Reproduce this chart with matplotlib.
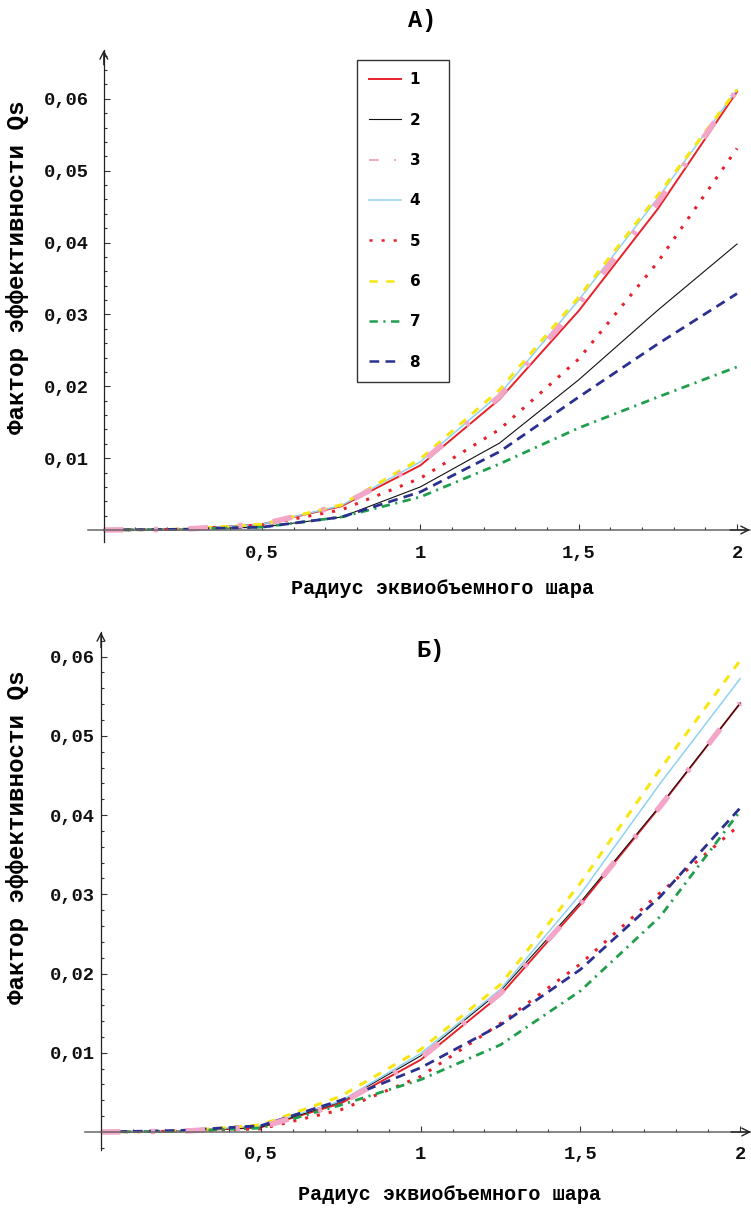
import matplotlib
matplotlib.use("Agg")
import matplotlib.pyplot as plt
from matplotlib.lines import Line2D
from matplotlib.ticker import FixedLocator, MultipleLocator

plt.rcParams['lines.scale_dashes'] = False
MONO = 'Liberation Mono'

# радиус эквиобъемного шара
radius = [0, 0.25, 0.5, 0.75, 1.0, 1.25, 1.5, 1.75, 2.0]
names = ['1', '2', '3', '4', '5', '6', '7', '8']

# панель А)
a1 = [0, 0.0001, 0.0008, 0.0033, 0.0090, 0.0182, 0.0305, 0.0447, 0.0610]
a2 = [0, 0.0001, 0.0004, 0.0018, 0.0060, 0.0121, 0.0209, 0.0306, 0.0398]
a3 = [0, 0.0001, 0.0008, 0.0034, 0.0093, 0.0186, 0.0314, 0.0456, 0.0612]
a4 = [0, 0.0001, 0.0008, 0.0034, 0.0095, 0.0189, 0.0320, 0.0462, 0.0613]
a5 = [0, 0.0001, 0.0007, 0.0028, 0.0072, 0.0140, 0.0238, 0.0373, 0.0531]
a6 = [0, 0.0001, 0.0008, 0.0035, 0.0099, 0.0195, 0.0324, 0.0466, 0.0613]
a7 = [0, 0.0001, 0.0004, 0.0018, 0.0046, 0.0092, 0.0142, 0.0185, 0.0227]
a8 = [0, 0.0001, 0.0004, 0.0018, 0.0053, 0.0109, 0.0185, 0.0259, 0.0329]

# панель Б)
b1 = [0, 0.0001, 0.0006, 0.0036, 0.0091, 0.0173, 0.0287, 0.0411, 0.0541]
b2 = [0, 0.0001, 0.0006, 0.0038, 0.0096, 0.0178, 0.0290, 0.0412, 0.0541]
b3 = [0, 0.0001, 0.0006, 0.0036, 0.0093, 0.0175, 0.0288, 0.0411, 0.0541]
b4 = [0, 0.0001, 0.0008, 0.0039, 0.0099, 0.0180, 0.0300, 0.0440, 0.0572]
b5 = [0, 0.0001, 0.0004, 0.0028, 0.0070, 0.0137, 0.0212, 0.0302, 0.0388]
b6 = [0, 0.0001, 0.0009, 0.0045, 0.0104, 0.0186, 0.0314, 0.0458, 0.0595]
b7 = [0, 0.0001, 0.0005, 0.0034, 0.0066, 0.0110, 0.0178, 0.0272, 0.0405]
b8 = [0, 0.0002, 0.0008, 0.0040, 0.0081, 0.0135, 0.0205, 0.0297, 0.0409]

x_ticks = [0.5, 1, 1.5, 2]
x_labels = ['0,5', '1', '1,5', '2']
y_ticks = [0.01, 0.02, 0.03, 0.04, 0.05, 0.06]
y_labels = ['0,01', '0,02', '0,03', '0,04', '0,05', '0,06']

styles = [
    dict(color='#e8202a', lw=1.4, ls='-'),
    dict(color='#111111', lw=0.8, ls='-'),
    dict(color='#f4a6c8', lw=4.0, dashes=(14, 22, 3, 22)),
    dict(color='#8ed2f2', lw=1.1, ls='-'),
    dict(color='#e8202a', lw=2.2, dashes=(2.2, 6.5)),
    dict(color='#f7e612', lw=2.2, dashes=(6, 6)),
    dict(color='#1f9e4b', lw=2.0, dashes=(6, 4, 1.5, 4)),
    dict(color='#2b3090', lw=2.0, dashes=(7, 4.5)),
]
draw_order = [0, 1, 3, 4, 5, 6, 7, 2]

W, H = 751, 1210
fig = plt.figure(figsize=(W / 100, H / 100), dpi=100)


def px_axes(l, t, r, b):
    return fig.add_axes([l / W, 1 - b / H, (r - l) / W, (b - t) / H])


def setup(ax, xlim, ylim, ypad, xpad):
    ax.set_xlim(*xlim)
    ax.set_ylim(*ylim)
    for s in ['top', 'right']:
        ax.spines[s].set_visible(False)
    ax.spines['left'].set_position(('data', 0))
    ax.spines['bottom'].set_position(('data', 0))
    ax.spines['left'].set_color('#222222')
    ax.spines['bottom'].set_color('#666666')
    ax.spines['left'].set_linewidth(0.9)
    ax.spines['bottom'].set_linewidth(1.1)
    ax.xaxis.set_major_locator(FixedLocator(x_ticks))
    ax.set_xticklabels(x_labels)
    ax.yaxis.set_major_locator(FixedLocator(y_ticks))
    ax.set_yticklabels(y_labels)
    ax.xaxis.set_minor_locator(MultipleLocator(0.1))
    ax.yaxis.set_minor_locator(MultipleLocator(0.002))
    ax.tick_params(which='both', direction='in', color='#333333', width=0.8)
    ax.tick_params(which='major', length=4)
    ax.tick_params(which='minor', length=2.2)
    ax.tick_params(axis='y', which='major', pad=ypad)
    ax.tick_params(axis='x', which='major', pad=xpad)
    for lab in ax.get_xticklabels() + ax.get_yticklabels():
        lab.set_fontfamily(MONO)
        lab.set_fontweight('bold')
        lab.set_fontsize(13.5)
        lab.set_color('#111111')
    arrow = dict(arrowstyle='->,head_length=0.55,head_width=0.28', lw=1.0,
                 color='#222222', shrinkA=0, shrinkB=0)
    ax.annotate('', xy=(1, 0), xycoords=('axes fraction', 'data'),
                xytext=(0.97, 0), textcoords=('axes fraction', 'data'),
                arrowprops=arrow, annotation_clip=False)
    ax.annotate('', xy=(0, 1), xycoords=('data', 'axes fraction'),
                xytext=(0, 0.97), textcoords=('data', 'axes fraction'),
                arrowprops=arrow, annotation_clip=False)


def draw(ax, series):
    for i in draw_order:
        ax.plot(radius, series[i], clip_on=False, **styles[i])


# ---- А)
ax1 = px_axes(88, 50, 750, 542)
setup(ax1, (-0.05, 2.041), (-0.00167, 0.0668), ypad=10.5, xpad=11)
draw(ax1, [a1, a2, a3, a4, a5, a6, a7, a8])

handles = []
for i, st in enumerate(styles):
    st = dict(st)
    if i == 2:
        st.update(lw=1.4, dashes=(7, 11, 1.5, 11))
    else:
        st['lw'] = min(st['lw'], 1.8)
    handles.append(Line2D([], [], **st))
leg = ax1.legend(handles, [n + '   ' for n in names],
                 loc='upper left', bbox_to_anchor=(357 / W, 1 - 60 / H),
                 bbox_transform=fig.transFigure, borderaxespad=0,
                 frameon=True, fancybox=False, framealpha=1,
                 edgecolor='#333333', handlelength=2.1, handletextpad=0.6,
                 labelspacing=1.66, borderpad=0.8,
                 prop={'family': 'DejaVu Sans', 'weight': 'bold', 'size': 11})
leg.get_frame().set_linewidth(1.0)

fig.text(422 / W, 1 - 20 / H, 'А)', family=MONO, weight='bold', fontsize=17,
         ha='center', va='center')
fig.text(443 / W, 1 - 588 / H, 'Радиус эквиобъемного шара', family=MONO,
         weight='bold', fontsize=14.5, ha='center', va='center')
fig.text(18 / W, 1 - 267 / H, 'Фактор эффективности Qs', family=MONO,
         weight='bold', fontsize=17.5, ha='center', va='center', rotation=90)

# ---- Б)
ax2 = px_axes(85, 632, 751, 1150)
setup(ax2, (-0.05, 2.034), (-0.00227, 0.0631), ypad=4.3, xpad=10)
draw(ax2, [b1, b2, b3, b4, b5, b6, b7, b8])

fig.text(431 / W, 1 - 650 / H, 'Б)', family=MONO, weight='bold', fontsize=17,
         ha='center', va='center')
fig.text(450 / W, 1 - 1194 / H, 'Радиус эквиобъемного шара', family=MONO,
         weight='bold', fontsize=14.5, ha='center', va='center')
fig.text(18 / W, 1 - 837 / H, 'Фактор эффективности Qs', family=MONO,
         weight='bold', fontsize=17.5, ha='center', va='center', rotation=90)

fig.savefig('out.png', dpi=100)
